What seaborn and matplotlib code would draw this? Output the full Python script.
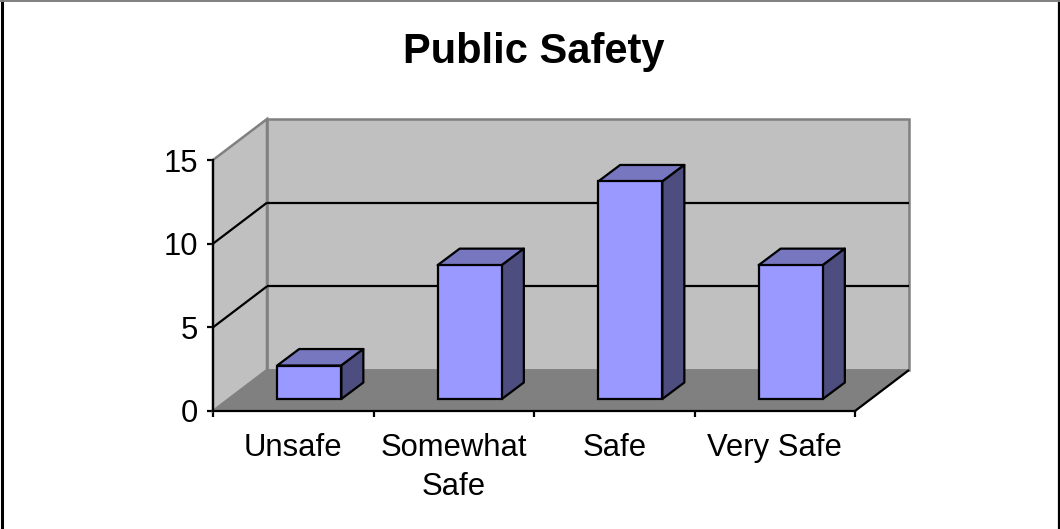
import matplotlib
matplotlib.use("Agg")
import matplotlib.pyplot as plt
import seaborn as sns
import pandas as pd
from matplotlib.patches import Polygon
from matplotlib.lines import Line2D
from matplotlib.transforms import Affine2D, IdentityTransform

categories = ['Unsafe', 'Somewhat\nSafe', 'Safe', 'Very Safe']
values = [2, 8, 13, 8]
y_ticks = [0, 5, 10, 15]
title = 'Public Safety'

sns.set_theme(style="white")
plt.rcParams['font.family'] = ['Liberation Sans', 'DejaVu Sans']

W, H = 1060, 529
DEPTH = (54, 41)        # wall depth in px
BAR_GAP = (16, 12)      # bar front face offset from the front plane
BAR_DEPTH = (22, 16.5)
LW = 1.6

fig = plt.figure(figsize=(W / 100, H / 100), dpi=100)
ax = fig.add_axes([213 / W, (H - 411) / H, (855 - 213) / W, (411 - 160) / H])
df = pd.DataFrame({'category': categories, 'value': values})

sns.barplot(data=df, x='category', y='value', ax=ax, width=0.4, color='#9999FF',
            saturation=1, edgecolor='black', linewidth=LW, zorder=4)
ax.set_xlim(-0.5, 3.5)
ax.set_ylim(0, 15)
ax.set_xlabel('')
ax.set_ylabel('')
ax.set_yticks(y_ticks)
ax.patch.set_visible(False)

for s in ['top', 'right']:
    ax.spines[s].set_visible(False)
for s in ['left', 'bottom']:
    ax.spines[s].set_linewidth(LW)
    ax.spines[s].set_color('black')
    ax.spines[s].set_zorder(3)

ax.set_xticks([-0.5, 0.5, 1.5, 2.5, 3.5], minor=True)
ax.tick_params(axis='x', which='minor', bottom=True, length=4, width=LW, color='black')
ax.tick_params(axis='x', which='major', bottom=False, labelsize=22.3, pad=9.5, colors='black')
ax.tick_params(axis='y', left=True, length=4, width=LW, labelsize=22.3, pad=6.5, colors='black')
for lab in ax.get_xticklabels():
    lab.set_linespacing(1.43)
    lab.set_verticalalignment('top')


def px(x, y):
    return ax.transData.transform((x, y))


def poly(points, **kw):
    ax.add_patch(Polygon(points, closed=True, transform=IdentityTransform(), clip_on=False, **kw))


def line(a, b, color='black', lw=LW, z=2):
    ax.add_line(Line2D([a[0], b[0]], [a[1], b[1]], transform=IdentityTransform(), color=color,
                       lw=lw, clip_on=False, zorder=z, solid_capstyle='butt'))


x0, x1 = -0.5, 3.5
dx, dy = DEPTH
fl, fr = px(x0, 0), px(x1, 0)
tl, tr = px(x0, 15), px(x1, 15)
back = lambda p: (p[0] + dx, p[1] + dy)

# walls and floor
poly([back(fl), back(fr), back(tr), back(tl)], fc='#C0C0C0', ec='#808080', lw=1.8, zorder=0.5)
poly([fl, back(fl), back(tl), tl], fc='#C0C0C0', ec='#808080', lw=1.8, zorder=0.6)
poly([fl, fr, back(fr), back(fl)], fc='#808080', ec='#808080', lw=1, zorder=0.7)
line(fr, back(fr))

# gridlines
for v in y_ticks[1:-1]:
    a, b = px(x0, v), px(x1, v)
    line(a, back(a))
    line(back(a), back(b))

# depth faces of the bars, moved off the front plane
gx, gy = BAR_GAP
bx, by = BAR_DEPTH
for bar in ax.patches[:len(values)]:
    bar.set_transform(ax.transData + Affine2D().translate(gx, gy))
    bar.set_clip_on(False)
    ll = px(bar.get_x(), 0)
    ur = px(bar.get_x() + bar.get_width(), bar.get_height())
    l, b, r, t = ll[0] + gx, ll[1] + gy, ur[0] + gx, ur[1] + gy
    poly([(l, t), (r, t), (r + bx, t + by), (l + bx, t + by)], fc='#7777C0', ec='black',
         lw=LW, zorder=3.5, joinstyle='round')
    poly([(r, b), (r + bx, b + by), (r + bx, t + by), (r, t)], fc='#4D4D80', ec='black',
         lw=LW, zorder=3.5, joinstyle='round')

fig.text(534 / W, 1 - 63 / H, title, ha='center', va='baseline', fontsize=30,
         fontweight='bold', color='black')

# chart frame
fig.add_artist(Line2D([1.5 / W, 1.5 / W], [0, 1], color='black', lw=2.2))
fig.add_artist(Line2D([1058.5 / W, 1058.5 / W], [0, 1], color='black', lw=1.6))
fig.add_artist(Line2D([0, 1], [1 - 0.7 / H, 1 - 0.7 / H], color='#808080', lw=1.4))

fig.savefig('out.png', dpi=100, facecolor='white')
